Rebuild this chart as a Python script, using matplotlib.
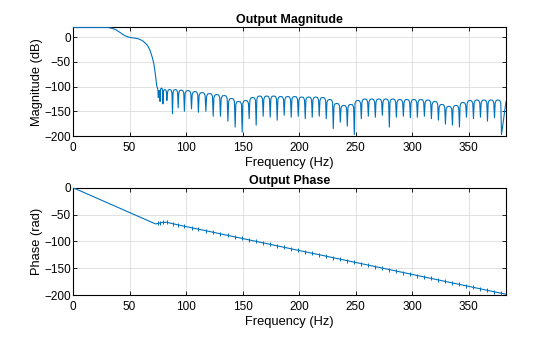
import numpy as np
import matplotlib
matplotlib.use("Agg")
import matplotlib.pyplot as plt

plt.rcParams['font.family'] = ['Liberation Sans', 'DejaVu Sans']

# passband / transition of the magnitude response (Hz, dB)
pass_hz = [0, 31, 35, 38, 42, 45.5, 48.7, 52, 55, 58, 61, 63.5, 66, 68, 70, 71.5, 73, 74, 75]
pass_db = [19.6, 19.6, 17.5, 15, 9, 3.5, 0.5, -1.2, -2, -3.5, -6.5, -11, -17, -26, -40, -54, -78, -98, -105]

# stopband nulls (Hz, dB) and lobe tops between them (dB)
null_hz = [75.5, 77, 79.5, 83, 88, 93, 98.5, 104.8, 110.9, 117.5, 124, 130.4, 137, 143.4,
           149.6, 155.8, 162.0, 168.2, 174.4, 180.6, 186.8, 193.0, 199.2, 205.4, 211.6, 217.8,
           224.0, 230.2, 236.4, 242.6, 248.8, 255.0, 261.2, 267.4, 273.6, 279.8, 286.0, 292.2,
           298.4, 304.6, 310.8, 317.0, 323.2, 329.4, 335.6, 341.8, 348.0, 354.2, 360.4, 366.6,
           372.8, 379.0]
null_db = [-122, -130, -135, -128, -155, -143, -150, -145, -152, -150, -160, -160, -170, -182,
           -192, -165, -178, -160, -162, -168, -158, -162, -160, -165, -162, -160,
           -165, -185, -172, -180, -197, -165, -160, -162, -158, -182, -162, -160,
           -163, -162, -160, -165, -168, -176, -178, -182, -162, -165, -162, -170,
           -163, -197]
peak_db = [-108, -103, -106, -106, -106, -107, -108, -110, -112, -114, -116, -118, -124,
           -130, -128, -122, -119, -119, -119, -120, -120, -120, -121, -121, -121, -122,
           -126, -134, -138, -136, -128, -125, -125, -125, -125, -125, -126, -126, -126,
           -126, -127, -130, -136, -140, -138, -132, -128, -127, -127, -127, -127]
end_hz = 383
end_db = -130

# phase (rad) at the start, the kink and each stopband null
phase_start_hz = [0, 73]
phase_start_rad = [0, -67.5]
null_phase = [-66.5, -65.5, -64.5, -64.5, -67.0, -69.3, -71.8, -74.6, -77.3, -80.2, -83.1, -86.0,
              -88.9, -91.8, -94.5, -97.3, -100.1, -102.8, -105.6, -108.4, -111.1, -113.9,
              -116.7, -119.4, -122.2, -124.9, -127.7, -130.5, -133.2, -136.0, -138.8, -141.5,
              -144.3, -147.1, -149.8, -152.6, -155.4, -158.1, -160.9, -163.7, -166.4, -169.2,
              -171.9, -174.7, -177.5, -180.2, -183.0, -185.8, -188.5, -191.3, -194.1, -196.8]
phase_end_rad = -198.6

color = '#0072BD'

# build the magnitude trace: each lobe runs null -> rounded top -> next null
mag_f = list(pass_hz)
mag_d = list(pass_db)
for i in range(len(null_hz) - 1):
    a, b = null_hz[i], null_hz[i + 1]
    w = b - a
    p = peak_db[i]
    mag_f += [a, a + 0.1 * w, a + 0.25 * w, a + 0.5 * w, a + 0.75 * w, a + 0.9 * w]
    mag_d += [null_db[i], p - 6, p - 1, p, p - 1, p - 6]
mag_f += [null_hz[-1], end_hz]
mag_d += [null_db[-1], end_db]

ph_f = phase_start_hz + null_hz + [end_hz]
ph_d = phase_start_rad + null_phase + [phase_end_rad]

fig = plt.figure(figsize=(5.6, 3.37), dpi=100)
ax1 = fig.add_axes([0.1304, 0.5964, 0.7732, 0.3226])
ax2 = fig.add_axes([0.1304, 0.1246, 0.7732, 0.3184])

ax1.plot(mag_f, mag_d, color=color, lw=0.8, zorder=3)
ax2.plot(ph_f, ph_d, color=color, lw=0.8, zorder=3,
         marker='|', markersize=2.5, markeredgewidth=0.7,
         markevery=list(range(2, 2 + len(null_hz))))

ax1.set_ylim(-200, 20)
ax1.set_yticks([0, -50, -100, -150, -200])
ax2.set_ylim(-200, 0)
ax2.set_yticks([0, -50, -100, -150, -200])

for ax in (ax1, ax2):
    ax.set_xlim(0, 383)
    ax.set_xticks([0, 50, 100, 150, 200, 250, 300, 350])
    ax.grid(True, color='#dcdcdc', lw=0.6)
    ax.set_axisbelow(True)
    ax.tick_params(direction='in', top=True, right=True, length=3, width=0.6,
                   labelsize=8.5)
    ax.tick_params(axis='x', pad=4.5)
    ax.tick_params(axis='y', pad=1.5)
    for s in ax.spines.values():
        s.set_linewidth(0.8)
    ax.set_xlabel('Frequency (Hz)', fontsize=9.3, labelpad=2)

ax1.set_ylabel('Magnitude (dB)', fontsize=9.3, labelpad=1)
ax2.set_ylabel('Phase (rad)', fontsize=9.3, labelpad=1)
ax1.set_title('Output Magnitude', fontsize=9, fontweight='bold', pad=3)
ax2.set_title('Output Phase', fontsize=9, fontweight='bold', pad=3)

fig.savefig('out.png', dpi=100)
